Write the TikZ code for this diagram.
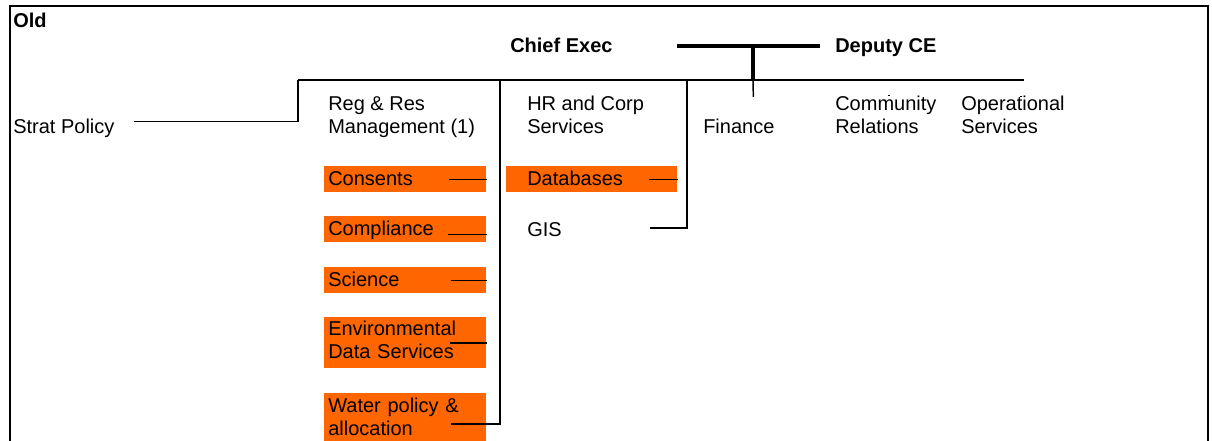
\documentclass[tikz,border=0pt]{standalone}
\usepackage{fontspec}
\setmainfont{Liberation Sans}
\usetikzlibrary{calc}

\definecolor{unitorange}{HTML}{FF6600}
\newcommand\unitfont{\fontsize{15}{17.25}\selectfont}
\newcommand\unitstrut{\rule[-4.5pt]{0pt}{13.5pt}}

\tikzset{
	unit/.style={font=\unitfont, anchor=north west, inner sep=0pt, align=left,
		execute at begin node=\unitstrut, execute at end node=\unitstrut},
	head/.style={unit, font=\unitfont\bfseries},
	unitbox/.style={unit, fill=unitorange, text width=115.5pt, inner xsep=3pt, minimum height=19.5pt},
	oneline/.style={text height=11pt, text depth=2pt},
	link/.style={line width=1.1pt},
	bus/.style={line width=1.5pt},
}

\begin{document}
\begin{tikzpicture}[x=0.75pt,y=-0.75pt]
	\useasboundingbox (0,0) rectangle (1212,441);

	% frame, open at the bottom
	\draw[line width=1.8pt] (10,470) -- (10,6) -- (1208,6) -- (1208,470);

	\node[head] (old) at (13,13) {Old};
	\node[head] (chief) at (510,38) {Chief Exec};
	\node[head] (deputy) at (835,38) {Deputy CE};

	\coordinate (execL) at (677,46);
	\coordinate (execR) at (820,46);
	\coordinate (execM) at (753,46);
	\coordinate (busL) at (298,80);
	\coordinate (busR) at (1024,80);
	\coordinate (regbar) at (500,80);
	\coordinate (hrbar) at (687,80);

	\draw[line width=3pt] (execL) -- (execR);
	\draw[line width=2.4pt] (execM) -- (execM |- busL);
	\draw[bus] (busL) -- (busR);

	% units under the bus
	\node[unit] (strat) at (13,119) {Strat Policy};
	\node[unit] (reg) at (328,96) {Reg \& Res\\Management (1)};
	\node[unit] (hr) at (527,96) {HR and Corp\\Services};
	\node[unit] (fin) at (703,119) {Finance};
	\node[unit] (comm) at (835,96) {Community\\Relations};
	\node[unit] (oper) at (961,96) {Operational\\Services};

	% Reg & Res teams
	\node[unitbox, oneline] (cons) at (324,166) {Consents};
	\node[unitbox, oneline] (comp) at (324,216) {Compliance};
	\node[unitbox, oneline] (sci) at (324,267) {Science};
	\node[unitbox, minimum height=38.25pt] (env) at (324,317) {Environmental\\Data Services};
	\node[unitbox, minimum height=39pt] (water) at (324,393) {Water policy \&\\allocation};

	% HR teams
	\node[unitbox, oneline, text width=96.75pt, inner xsep=15.75pt] (db) at (506,166) {Databases};
	\node[unit] (gis) at (527,222) {GIS};

	\draw[link] (busL) |- ($(strat.east)+(19,-8)$);
	\draw[link] ($(fin.north)+(14.5,-22)$) -- (execM |- busL);
	\draw[link] ($(comm.north)+(3,-1)$) -- ($(comm.north)+(3,0)$ |- busL);
	\draw[link] ($(oper.north)+(8,1)$) -- ($(oper.north)+(8,0)$ |- busL);

	\draw[bus] (regbar) |- ($(water.east)+(-36,5)$);
	\draw[link] ($(reg.east)+(-28,-5)$) -- ($(reg.east)+(-28,-5)$ -| regbar);
	\draw[link] ($(cons.east)+(-38,0)$) -- ($(cons.east)$ -| regbar);
	\draw[link] ($(comp.east)+(-39,5)$) -- ($(comp.east)+(0,5)$ -| regbar);
	\draw[link] ($(sci.east)+(-36,0)$) -- ($(sci.east)$ -| regbar);
	\draw[link] ($(env.east)+(-37,0)$) -- ($(env.east)$ -| regbar);

	\draw[bus] (hrbar) |- ($(gis.east)+(88,-4)$);
	\draw[link] ($(hr.east)+(4,1)$) -- ($(hr.east)+(4,1)$ -| hrbar);
	\draw[link] ($(db.east)+(-29,0)$) -- ($(db.east)$ -| hrbar);
\end{tikzpicture}
\end{document}
